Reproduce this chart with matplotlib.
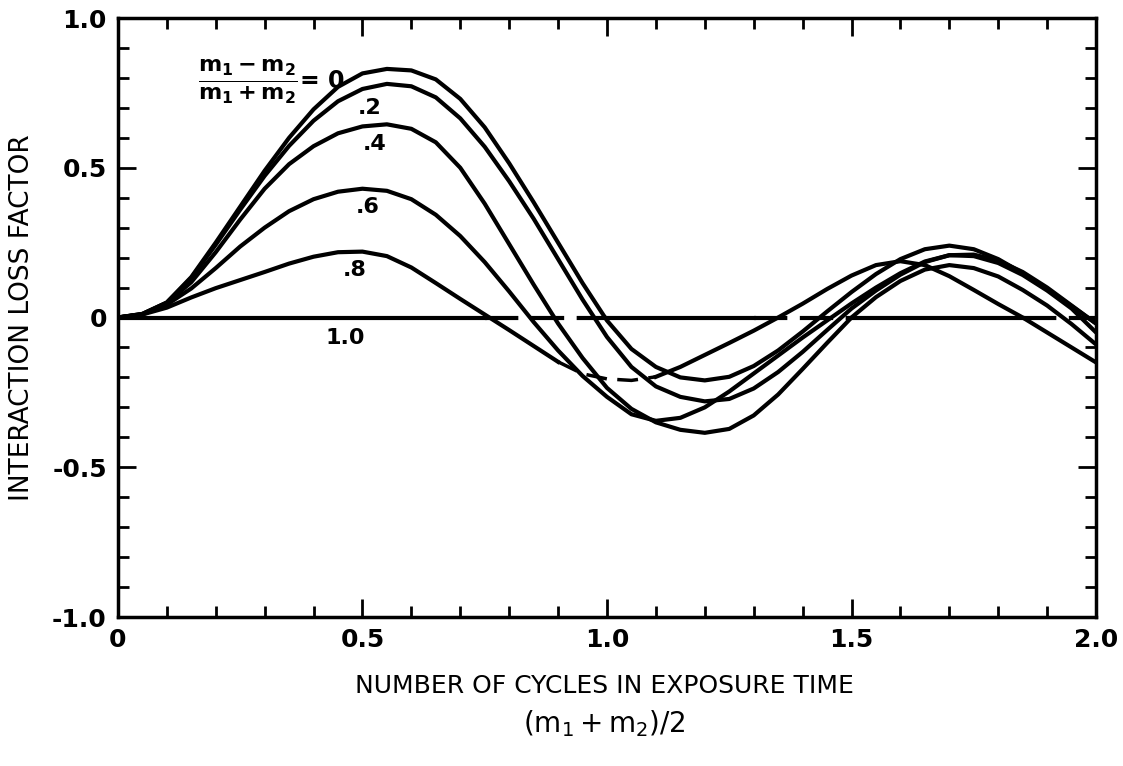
import matplotlib
matplotlib.use("Agg")
import matplotlib.pyplot as plt
from matplotlib.ticker import MultipleLocator, FixedLocator

plt.rcParams['mathtext.fontset'] = 'dejavusans'
plt.rcParams['font.family'] = ['DejaVu Sans']

x = [0.00, 0.05, 0.10, 0.15, 0.20, 0.25, 0.30, 0.35, 0.40, 0.45,
     0.50, 0.55, 0.60, 0.65, 0.70, 0.75, 0.80, 0.85, 0.90, 0.95,
     1.00, 1.05, 1.10, 1.15, 1.20, 1.25, 1.30, 1.35, 1.40, 1.45,
     1.50, 1.55, 1.60, 1.65, 1.70, 1.75, 1.80, 1.85, 1.90, 1.95, 2.00]

ratio_0 = [0.00, 0.012, 0.05, 0.135, 0.25, 0.37, 0.49, 0.60, 0.695, 0.77,
           0.815, 0.83, 0.825, 0.795, 0.73, 0.635, 0.515, 0.385, 0.25, 0.115,
           -0.01, -0.105, -0.165, -0.20, -0.21, -0.198, -0.162, -0.11, -0.047, 0.02,
           0.085, 0.145, 0.195, 0.228, 0.24, 0.228, 0.195, 0.148, 0.095, 0.038, -0.02]

ratio_2 = [0.00, 0.012, 0.05, 0.132, 0.243, 0.36, 0.473, 0.573, 0.657, 0.722,
           0.763, 0.78, 0.772, 0.735, 0.665, 0.57, 0.455, 0.33, 0.195, 0.06,
           -0.065, -0.165, -0.23, -0.265, -0.28, -0.272, -0.237, -0.182, -0.115, -0.042,
           0.03, 0.09, 0.143, 0.185, 0.208, 0.205, 0.182, 0.142, 0.09, 0.03, -0.05]

ratio_4 = [0.00, 0.011, 0.048, 0.118, 0.218, 0.327, 0.43, 0.512, 0.572, 0.615,
           0.638, 0.645, 0.63, 0.585, 0.50, 0.38, 0.245, 0.11, -0.02, -0.135,
           -0.235, -0.305, -0.35, -0.375, -0.385, -0.372, -0.327, -0.257, -0.172, -0.085,
           0.00, 0.068, 0.122, 0.16, 0.175, 0.165, 0.137, 0.092, 0.04, -0.022, -0.09]

ratio_6 = [0.00, 0.01, 0.043, 0.097, 0.165, 0.237, 0.30, 0.355, 0.395, 0.42,
           0.43, 0.423, 0.395, 0.343, 0.272, 0.185, 0.087, -0.015, -0.11, -0.195,
           -0.265, -0.323, -0.345, -0.335, -0.30, -0.247, -0.187, -0.127, -0.067, -0.01,
           0.047, 0.10, 0.148, 0.187, 0.208, 0.21, 0.19, 0.152, 0.10, 0.04, -0.02]

ratio_8 = [0.00, 0.01, 0.033, 0.067, 0.098, 0.125, 0.152, 0.18, 0.203, 0.218,
           0.22, 0.205, 0.167, 0.115, 0.062, 0.01, -0.042, -0.095, -0.148, -0.188,
           -0.205, -0.21, -0.198, -0.165, -0.125, -0.085, -0.044, 0.00, 0.046, 0.095,
           0.14, 0.175, 0.188, 0.175, 0.138, 0.092, 0.045, 0.00, -0.05, -0.10, -0.15]

ratio_10 = [0.0] * len(x)

curves = [ratio_0, ratio_2, ratio_4, ratio_6, ratio_8]
curve_labels = ['.2', '.4', '.6', '.8', '1.0']

fig = plt.figure(figsize=(11.23, 7.66), dpi=100)
ax = fig.add_axes([0.105, 0.1945, 0.871, 0.782])

lw = 3.0
for c in curves[:4]:
    ax.plot(x, c, color='black', lw=lw, solid_capstyle='round', solid_joinstyle='round')

# .8 curve: solid except dashed flat bottom
i1, i2 = 18, 22
ax.plot(x[:i1 + 1], ratio_8[:i1 + 1], color='black', lw=lw, solid_joinstyle='round')
ax.plot(x[i1:i2 + 1], ratio_8[i1:i2 + 1], color='black', lw=2.5, ls=(0, (6, 3)))
ax.plot(x[i2:], ratio_8[i2:], color='black', lw=lw, solid_joinstyle='round')

# 1.0 line: solid with dashed segments
segs = [(0, 15, '-'), (15, 20, '--'), (20, 26, '-'), (26, 30, '--'), (30, 37, '-'), (37, 40, '--')]
for a, b, s in segs:
    if s == '-':
        ax.plot(x[a:b + 1], ratio_10[a:b + 1], color='black', lw=lw)
    else:
        ax.plot(x[a:b + 1], ratio_10[a:b + 1], color='black', lw=lw, ls=(0, (8, 3)))

ax.set_xlim(0, 2.0)
ax.set_ylim(-1.0, 1.0)
ax.xaxis.set_major_locator(FixedLocator([0, 0.5, 1.0, 1.5, 2.0]))
ax.xaxis.set_minor_locator(MultipleLocator(0.1))
ax.yaxis.set_major_locator(FixedLocator([-1.0, -0.5, 0, 0.5, 1.0]))
ax.yaxis.set_minor_locator(MultipleLocator(0.1))
ax.set_xticklabels(['0', '0.5', '1.0', '1.5', '2.0'])
ax.set_yticklabels(['-1.0', '-0.5', '0', '0.5', '1.0'])
ax.tick_params(which='both', direction='in', top=True, right=True, width=2.0)
ax.tick_params(which='major', length=13, labelsize=18, pad=8)
ax.tick_params(which='minor', length=8)
for t in ax.get_xticklabels() + ax.get_yticklabels():
    t.set_fontweight('bold')
for sp in ax.spines.values():
    sp.set_linewidth(2.5)

ax.set_ylabel('INTERACTION LOSS FACTOR', fontsize=19, labelpad=12)
fig.text(0.538, 0.105, 'NUMBER OF CYCLES IN EXPOSURE TIME', ha='center', va='center', fontsize=18)
fig.text(0.538, 0.055, r'$(\mathregular{m_1}+\mathregular{m_2})/2$', ha='center', va='center', fontsize=20)

ax.text(0.265, 0.785, r'$\frac{\mathbf{m_1 - m_2}}{\mathbf{m_1 + m_2}}$', ha='center', va='center', fontsize=23)
ax.text(0.372, 0.79, '= 0', ha='left', va='center', fontsize=17, fontweight='bold')
label_pos = [(0.515, 0.70), (0.525, 0.58), (0.51, 0.37), (0.485, 0.16), (0.465, -0.068)]
for (lx, ly), lab in zip(label_pos, curve_labels):
    ax.text(lx, ly, lab, ha='center', va='center', fontsize=16, fontweight='bold')

fig.savefig('out.png', dpi=100)
